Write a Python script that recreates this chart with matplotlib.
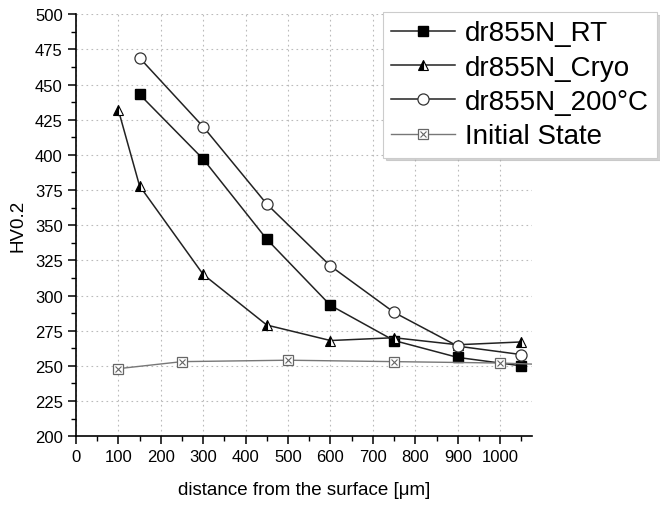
import matplotlib
matplotlib.use("Agg")
import matplotlib.pyplot as plt
from matplotlib.ticker import MultipleLocator

plt.rcParams['font.family'] = ['Liberation Sans', 'DejaVu Sans']

x_rt = [150, 300, 450, 600, 750, 900, 1050]
y_rt = [443, 397, 340, 293, 268, 256, 250]

x_cryo = [100, 150, 300, 450, 600, 750, 900, 1050]
y_cryo = [432, 378, 315, 279, 268, 270, 265, 267]

x_200 = [150, 300, 450, 600, 750, 900, 1050]
y_200 = [469, 420, 365, 321, 288, 264, 258]

x_init = [100, 250, 500, 750, 1000, 1100]
y_init = [248, 253, 254, 253, 252, 251]

labels = ["dr855N_RT", "dr855N_Cryo", "dr855N_200°C", "Initial State"]

fig = plt.figure(figsize=(6.6, 5.06), dpi=100)
ax = fig.add_axes([0.115, 0.136, 0.691, 0.834])

dark = '#222222'
h1, = ax.plot(x_rt, y_rt, color=dark, lw=1.1, marker='s', ms=6.5,
              mfc='black', mec='black', label=labels[0], zorder=3)
h2, = ax.plot(x_cryo, y_cryo, color=dark, lw=1.1, marker='^', ms=7.5,
              fillstyle='left', mfc='black', mfcalt='white', mec='black', mew=0.8,
              label=labels[1], zorder=3)
h3, = ax.plot(x_200, y_200, color=dark, lw=1.1, marker='o', ms=8,
              mfc='white', mec='#333333', mew=0.9, label=labels[2], zorder=3)
h4, = ax.plot(x_init, y_init, color='#777777', lw=1.0, marker='s', ms=6.5,
              mfc='white', mec='#666666', mew=0.9, label=labels[3], zorder=3)
h4x, = ax.plot(x_init, y_init, ls='none', marker='x', ms=4, mec='#666666',
               mew=0.8, zorder=4)

ax.set_xlim(0, 1075)
ax.set_ylim(200, 500)
ax.xaxis.set_major_locator(MultipleLocator(100))
ax.xaxis.set_minor_locator(MultipleLocator(50))
ax.yaxis.set_major_locator(MultipleLocator(25))
ax.yaxis.set_minor_locator(MultipleLocator(12.5))
ax.grid(True, which='major', ls=(0, (1.5, 3)), color='#bbbbbb', lw=0.8)
ax.set_axisbelow(True)
for s in ['top', 'right']:
    ax.spines[s].set_visible(False)
for s in ['left', 'bottom']:
    ax.spines[s].set_linewidth(1.2)
ax.tick_params(axis='both', which='major', direction='out', length=6, width=1.1,
               labelsize=12, colors='black')
ax.tick_params(axis='both', which='minor', direction='out', length=3.5, width=1.0)

ax.set_xlabel("distance from the surface [μm]", fontsize=13.5, labelpad=12)
ax.set_ylabel("HV0.2", fontsize=13.5, labelpad=6)

leg = fig.legend([h1, h2, h3, (h4, h4x)], labels, loc='upper right',
                 bbox_to_anchor=(657/660, 1 - 13/506), fontsize=20,
                 frameon=True, fancybox=False, shadow={'color': '#aaaaaa'},
                 edgecolor='#cccccc', handlelength=2.3, borderpad=0.3,
                 labelspacing=0.3, handletextpad=0.35, borderaxespad=0)
leg.get_frame().set_linewidth(0.8)

fig.savefig("out.png", dpi=100)
